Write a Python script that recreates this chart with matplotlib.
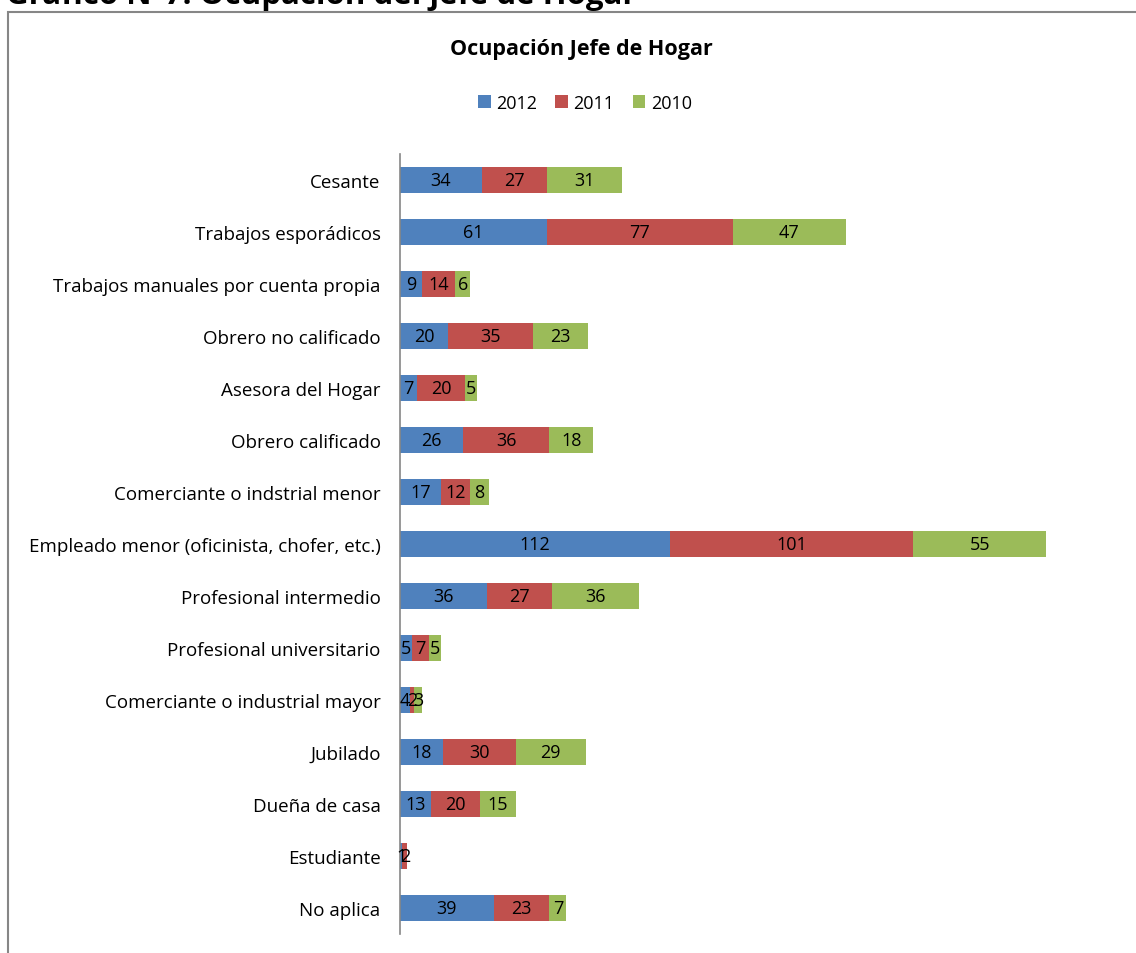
import matplotlib.pyplot as plt
import numpy as np
from matplotlib.patches import Rectangle

plt.rcParams['font.family'] = ['Open Sans', 'DejaVu Sans']

categorias = ["Cesante", "Trabajos esporádicos", "Trabajos manuales por cuenta propia",
              "Obrero no calificado", "Asesora del Hogar", "Obrero calificado",
              "Comerciante o indstrial menor", "Empleado menor (oficinista, chofer, etc.)",
              "Profesional intermedio", "Profesional universitario",
              "Comerciante o industrial mayor", "Jubilado", "Dueña de casa",
              "Estudiante", "No aplica"]
v2012 = [34, 61, 9, 20, 7, 26, 17, 112, 36, 5, 4, 18, 13, 1, 39]
v2011 = [27, 77, 14, 35, 20, 36, 12, 101, 27, 7, 2, 30, 20, 2, 23]
v2010 = [31, 47, 6, 23, 5, 18, 8, 55, 36, 5, 3, 29, 15, 0, 7]
series = ["2012", "2011", "2010"]
colores = ["#4F81BD", "#C0504D", "#9BBB59"]

W, H = 1136, 954
fig = plt.figure(figsize=(W / 100, H / 100), dpi=100)

# marco del grafico (cortado a la derecha y abajo)
fig.patches.append(Rectangle((8 / W, -0.1), 2, (H - 13) / H + 0.1, transform=fig.transFigure,
                             fill=False, edgecolor="#868686", linewidth=1.5))
fig.text(6 / W, 1 - 4 / H, "Gráfico N°7: Ocupación del jefe de Hogar", fontsize=22.5,
         fontweight="bold", ha="left", va="baseline", color="black")

ax = fig.add_axes([400 / W, 1 - 935 / H, (1123 - 400) / W, (935 - 155) / H])
y = np.arange(len(categorias))
izq = np.zeros(len(categorias))
for nombre, vals, col in zip(series, [v2012, v2011, v2010], colores):
    vals = np.array(vals)
    bars = ax.barh(y, vals, left=izq, height=0.5, color=col, label=nombre)
    for b, v in zip(bars, vals):
        if v > 0:
            ax.text(b.get_x() + b.get_width() / 2, b.get_y() + b.get_height() / 2, str(v),
                    ha="center", va="center", fontsize=13, color="black")
    izq += vals

ax.set_xlim(0, 300)
ax.set_ylim(len(categorias) - 0.5, -0.5)
ax.set_yticks(y)
ax.set_yticklabels(categorias, fontsize=13.5)
ax.tick_params(axis="y", length=0, pad=14)
ax.set_xticks([])
for s in ["top", "right", "bottom"]:
    ax.spines[s].set_visible(False)
ax.spines["left"].set_color("#868686")
ax.spines["left"].set_linewidth(1.2)

fig.text(581 / W, 1 - 50 / H, "Ocupación Jefe de Hogar", fontsize=15.5, fontweight="bold",
         ha="center", va="center")
fig.legend(loc="center", bbox_to_anchor=(585 / W, 1 - 104 / H), ncol=3, frameon=False,
           fontsize=13, handlelength=0.7, handleheight=0.7, handletextpad=0.3,
           columnspacing=1.0)

fig.savefig("out.png", dpi=100)
